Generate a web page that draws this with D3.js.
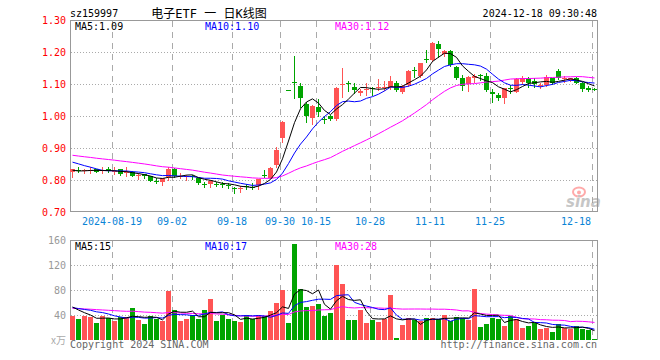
<!DOCTYPE html>
<html>
<head>
<meta charset="utf-8">
<script src="https://cdn.jsdelivr.net/npm/d3@7"></script>
<style>
  body { margin: 0; background: #fff; }
  svg { display: block; font-family: "DejaVu Sans Mono", monospace; }
</style>
</head>
<body>
<svg id="chart" width="660" height="360"></svg>
<script>
// trading days shown on the chart
const dates = [
  '2024-08-08','2024-08-09','2024-08-12','2024-08-13','2024-08-14','2024-08-15','2024-08-16',
  '2024-08-19','2024-08-20','2024-08-21','2024-08-22','2024-08-23','2024-08-26','2024-08-27',
  '2024-08-28','2024-08-29','2024-08-30','2024-09-02','2024-09-03','2024-09-04','2024-09-05',
  '2024-09-06','2024-09-09','2024-09-10','2024-09-11','2024-09-12','2024-09-13','2024-09-18',
  '2024-09-19','2024-09-20','2024-09-23','2024-09-24','2024-09-25','2024-09-26','2024-09-27',
  '2024-09-30','2024-10-08','2024-10-09','2024-10-10','2024-10-11','2024-10-14','2024-10-15',
  '2024-10-16','2024-10-17','2024-10-18','2024-10-21','2024-10-22','2024-10-23','2024-10-24',
  '2024-10-25','2024-10-28','2024-10-29','2024-10-30','2024-10-31','2024-11-01','2024-11-04',
  '2024-11-05','2024-11-06','2024-11-07','2024-11-08','2024-11-11','2024-11-12','2024-11-13',
  '2024-11-14','2024-11-15','2024-11-18','2024-11-19','2024-11-20','2024-11-21','2024-11-22',
  '2024-11-25','2024-11-26','2024-11-27','2024-11-28','2024-11-29','2024-12-02','2024-12-03',
  '2024-12-04','2024-12-05','2024-12-06','2024-12-09','2024-12-10','2024-12-11','2024-12-12',
  '2024-12-13','2024-12-16','2024-12-17','2024-12-18'
];

const open = [
  0.826,0.832,0.828,0.830,0.833,0.828,0.833,0.826,0.833,0.822,
  0.826,0.814,0.818,0.8125,0.796,0.795,0.810,0.834,0.812,0.809,
  0.811,0.805,0.789,0.788,0.789,0.787,0.784,0.775,0.773,0.780,
  0.778,0.784,0.817,0.806,0.847,0.930,1.080,1.107,1.094,1.0375,
  0.993,1.029,0.990,1.000,0.990,1.098,1.102,1.092,1.073,1.082,
  1.086,1.088,1.088,1.090,1.104,1.075,1.097,1.143,1.125,1.179,
  1.175,1.225,1.194,1.204,1.152,1.118,1.100,1.120,1.127,1.125,
  1.076,1.066,1.055,1.086,1.076,1.107,1.118,1.109,1.095,1.097,
  1.118,1.142,1.116,1.111,1.120,1.104,1.087,1.085
];
const high = [
  0.835,0.842,0.833,0.840,0.835,0.842,0.842,0.842,0.834,0.840,
  0.828,0.821,0.820,0.814,0.805,0.806,0.842,0.836,0.823,0.816,
  0.816,0.806,0.795,0.799,0.795,0.795,0.790,0.779,0.781,0.788,
  0.790,0.803,0.831,0.840,0.904,0.985,1.080,1.188,1.102,1.045,
  1.033,1.052,1.000,1.002,1.090,1.149,1.108,1.104,1.084,1.102,
  1.090,1.115,1.108,1.125,1.108,1.096,1.145,1.152,1.167,1.206,
  1.231,1.233,1.206,1.206,1.155,1.128,1.125,1.131,1.131,1.134,
  1.083,1.073,1.089,1.096,1.120,1.125,1.123,1.118,1.102,1.128,
  1.120,1.146,1.125,1.120,1.122,1.106,1.094,1.087
];
const low = [
  0.810,0.826,0.823,0.823,0.824,0.821,0.826,0.819,0.816,0.812,
  0.811,0.802,0.806,0.797,0.792,0.784,0.800,0.810,0.805,0.800,
  0.802,0.788,0.779,0.777,0.781,0.777,0.775,0.760,0.764,0.771,
  0.771,0.771,0.809,0.805,0.842,0.920,1.080,1.055,1.027,0.982,
  0.975,1.000,0.979,0.9875,0.988,1.060,1.077,1.073,1.067,1.066,
  1.066,1.081,1.081,1.083,1.077,1.071,1.095,1.123,1.122,1.170,
  1.173,1.183,1.1875,1.156,1.116,1.081,1.077,1.107,1.114,1.0775,
  1.045,1.050,1.042,1.073,1.074,1.100,1.092,1.092,1.087,1.095,
  1.100,1.116,1.107,1.109,1.102,1.079,1.079,1.081
];
const close = [
  0.833,0.830,0.830,0.832,0.826,0.830,0.829,0.828,0.820,0.824,
  0.8125,0.816,0.811,0.798,0.794,0.805,0.834,0.8125,0.814,0.811,
  0.809,0.790,0.787,0.798,0.787,0.785,0.782,0.773,0.775,0.778,
  0.776,0.802,0.815,0.838,0.894,0.982,1.080,1.102,1.055,1.000,
  1.031,1.0135,0.9875,0.990,1.087,1.100,1.100,1.081,1.078,1.084,
  1.084,1.090,1.090,1.109,1.081,1.094,1.142,1.141,1.165,1.177,
  1.227,1.208,1.204,1.159,1.118,1.094,1.123,1.125,1.125,1.081,
  1.068,1.057,1.087,1.084,1.115,1.118,1.104,1.099,1.097,1.123,
  1.104,1.118,1.118,1.118,1.104,1.083,1.081,1.084
];
// volume in 万
const volume = [
  38.4,33.6,38.4,36.3,27.2,38.9,35.2,30.9,36.3,36.3,
  51.2,32,25.6,38.4,34.1,30.9,78.4,48,30.9,33.6,
  40,33.6,48,65.6,30.9,40.5,33.6,30.9,29.3,40,
  33.6,40,38.4,46.9,59.7,80,27.7,153.6,81.6,52.8,
  54.4,57.6,38.9,43.2,120,89.6,32,32,48,27,
  32,29,33,72,3,24,36,32,30,35,
  35,33,40,31,37,36,32,81.6,21,26,
  36,34,23,38,33,20,23,27,18,20,
  13,26,20,18,22,17,16,2
];
// sessions before the window, only feeding the moving averages
const priorClose = [
  0.902,0.898,0.895,0.899,0.893,0.890,0.888,0.892,0.887,0.884,
  0.889,0.886,0.883,0.887,0.884,0.880,0.885,0.882,0.879,0.877,
  0.884,0.886,0.880,0.878,0.877,0.842,0.828,0.826,0.824
];
const priorVolume = [
  48,52,50,47,55,51,49,53,50,46,
  52,50,48,54,51,49,52,50,47,46,
  50,53,49,52,51,58,60,55,53
];

const priceTicks = [1.30, 1.20, 1.10, 1.00, 0.90, 0.80, 0.70];
const volTicks = [160, 120, 80, 40];
const dateTicks = ['2024-08-19','2024-09-02','2024-09-18','2024-09-30','2024-10-15',
                   '2024-10-28','2024-11-11','2024-11-25','2024-12-18'];

const RED = '#ff5454', GREEN = '#00a400', GRID = '#aaa', FRAME = '#999';
const maColors = {5: '#000', 10: '#0000ff', 30: '#ff00ff'};

const svg = d3.select('#chart');

const x = d3.scaleBand().domain(dates).range([70, 598]);
const y = d3.scaleLinear().domain([0.70, 1.30]).range([212, 20]);
const yv = d3.scaleLinear().domain([0, 160]).range([340, 240]);
const cx = d => x(d) + 2.5;

function movingAvg(values, prior, n) {
  const all = prior.concat(values);
  return values.map((v, i) => d3.mean(all.slice(i + prior.length - n + 1, i + prior.length + 1)));
}

// ---- header
svg.append('text').attr('x', 70).attr('y', 17).attr('font-size', 10).text('sz159997');
svg.append('text').attr('x', 209).attr('y', 18).attr('text-anchor', 'middle')
  .attr('font-family', '"DejaVu Sans Mono", "Noto Sans CJK SC", monospace').attr('font-size', 12)
  .text('电子ETF 一 日K线图');
svg.append('text').attr('x', 597).attr('y', 17).attr('text-anchor', 'end')
  .attr('font-size', 10).text('2024-12-18 09:30:48');

// ---- grids
const grid = svg.append('g').attr('shape-rendering', 'crispEdges');
grid.selectAll('.hp').data(priceTicks.slice(1, -1)).join('line')
  .attr('x1', 71).attr('x2', 599)
  .attr('y1', d => Math.round(y(d)) + 0.5).attr('y2', d => Math.round(y(d)) + 0.5)
  .attr('stroke', GRID).attr('stroke-dasharray', '1,2');
grid.selectAll('.hv').data(volTicks.slice(1)).join('line')
  .attr('x1', 71).attr('x2', 599)
  .attr('y1', d => Math.round(yv(d)) + 0.5).attr('y2', d => Math.round(yv(d)) + 0.5)
  .attr('stroke', GRID).attr('stroke-dasharray', '1,2');
[[21, 211], [241, 340]].forEach(([a, b]) => {
  grid.append('g').selectAll('line').data(dateTicks).join('line')
    .attr('x1', d => x(d) + 0.5).attr('x2', d => x(d) + 0.5)
    .attr('y1', a).attr('y2', b)
    .attr('stroke', GRID).attr('stroke-dasharray', '6,5');
});

// ---- frames
const frame = svg.append('g').attr('stroke', FRAME).attr('fill', 'none').attr('shape-rendering', 'crispEdges');
frame.append('path').attr('d', 'M70.5,212V20.5H597.5V211.5H70.5');
frame.append('path').attr('d', 'M70.5,340V240.5H597.5V340');

// ---- axis labels
svg.append('g').attr('fill', '#f00').attr('font-size', 10).attr('text-anchor', 'end')
  .selectAll('text').data(priceTicks).join('text')
  .attr('x', 66).attr('y', d => y(d) + 4).text(d => d.toFixed(2));
svg.append('g').attr('fill', '#999').attr('font-size', 10).attr('text-anchor', 'end')
  .selectAll('text').data(volTicks).join('text')
  .attr('x', 66).attr('y', d => yv(d) + 4).text(d => d);
svg.append('text').attr('x', 66).attr('y', 344).attr('text-anchor', 'end')
  .attr('fill', '#aaa').attr('font-size', 10)
  .attr('font-family', '"Noto Sans CJK SC", sans-serif').text('x万');
svg.append('g').attr('fill', '#0a84d6').attr('font-size', 10)
  .selectAll('text').data(dateTicks).join('text')
  .attr('x', (d, i) => i === dateTicks.length - 1 ? 591 : x(d))
  .attr('y', 225)
  .attr('text-anchor', (d, i) => i === dateTicks.length - 1 ? 'end' : 'middle')
  .text((d, i) => i === 0 ? d : d.slice(5));

// ---- watermark
const logo = svg.append('g').attr('opacity', 0.55);
logo.append('ellipse').attr('cx', 579).attr('cy', 192).attr('rx', 6).attr('ry', 4.5)
  .attr('fill', 'none').attr('stroke', '#f66').attr('stroke-width', 2);
logo.append('circle').attr('cx', 579).attr('cy', 192.5).attr('r', 2).attr('fill', '#f66');
logo.append('text').attr('x', 566).attr('y', 207).attr('font-family', 'DejaVu Sans, sans-serif')
  .attr('font-weight', 'bold').attr('font-style', 'italic').attr('font-size', 15)
  .attr('fill', '#999').text('sina');

// ---- candles
const isUp = i => close[i] > open[i];
const candles = svg.append('g').attr('shape-rendering', 'crispEdges')
  .selectAll('g').data(dates).join('g');
candles.append('line')
  .attr('x1', d => cx(d)).attr('x2', d => cx(d))
  .attr('y1', (d, i) => Math.round(y(high[i]))).attr('y2', (d, i) => Math.round(y(low[i])) + 1)
  .attr('stroke', (d, i) => isUp(i) ? RED : GREEN);
candles.append('rect')
  .attr('x', d => x(d)).attr('width', 5)
  .attr('y', (d, i) => Math.round(y(Math.max(open[i], close[i]))))
  .attr('height', (d, i) => Math.max(1, Math.round(y(Math.min(open[i], close[i]))) - Math.round(y(Math.max(open[i], close[i])))))
  .attr('fill', (d, i) => isUp(i) ? RED : GREEN);

// ---- volume bars
svg.append('g').attr('shape-rendering', 'crispEdges')
  .selectAll('rect').data(dates).join('rect')
  .attr('x', d => x(d)).attr('width', 5)
  .attr('y', (d, i) => Math.round(yv(volume[i])))
  .attr('height', (d, i) => 340 - Math.round(yv(volume[i])))
  .attr('fill', (d, i) => isUp(i) ? RED : GREEN);

// ---- moving averages
const priceMA = {}, volMA = {};
[5, 10, 30].forEach(n => {
  priceMA[n] = movingAvg(close, priorClose, n);
  volMA[n] = movingAvg(volume, priorVolume, n);
});
const lineP = d3.line().x((d, i) => cx(dates[i])).y(d => y(d));
const lineV = d3.line().x((d, i) => cx(dates[i])).y(d => yv(d));
[30, 10, 5].forEach(n => {
  svg.append('path').attr('d', lineP(priceMA[n])).attr('fill', 'none')
    .attr('stroke', maColors[n]).attr('stroke-width', 1);
  svg.append('path').attr('d', lineV(volMA[n])).attr('fill', 'none')
    .attr('stroke', maColors[n]).attr('stroke-width', 1);
});

// ---- legends
const last = dates.length - 1;
const legX = {5: 75, 10: 205, 30: 335};
[5, 10, 30].forEach(n => {
  svg.append('text').attr('x', legX[n]).attr('y', 29.5).attr('font-size', 10)
    .attr('fill', maColors[n]).text(`MA${n}:${priceMA[n][last].toFixed(2)}`);
  svg.append('text').attr('x', legX[n]).attr('y', 250).attr('font-size', 10)
    .attr('fill', maColors[n]).text(`MA${n}:${Math.round(volMA[n][last])}`);
});

// ---- footer
svg.append('text').attr('x', 70).attr('y', 348).attr('font-size', 10).attr('fill', '#666')
  .text('Copyright 2024 SINA.COM');
svg.append('text').attr('x', 597).attr('y', 348).attr('font-size', 10).attr('fill', '#666')
  .attr('text-anchor', 'end').text('http://finance.sina.com.cn');
</script>
</body>
</html>
